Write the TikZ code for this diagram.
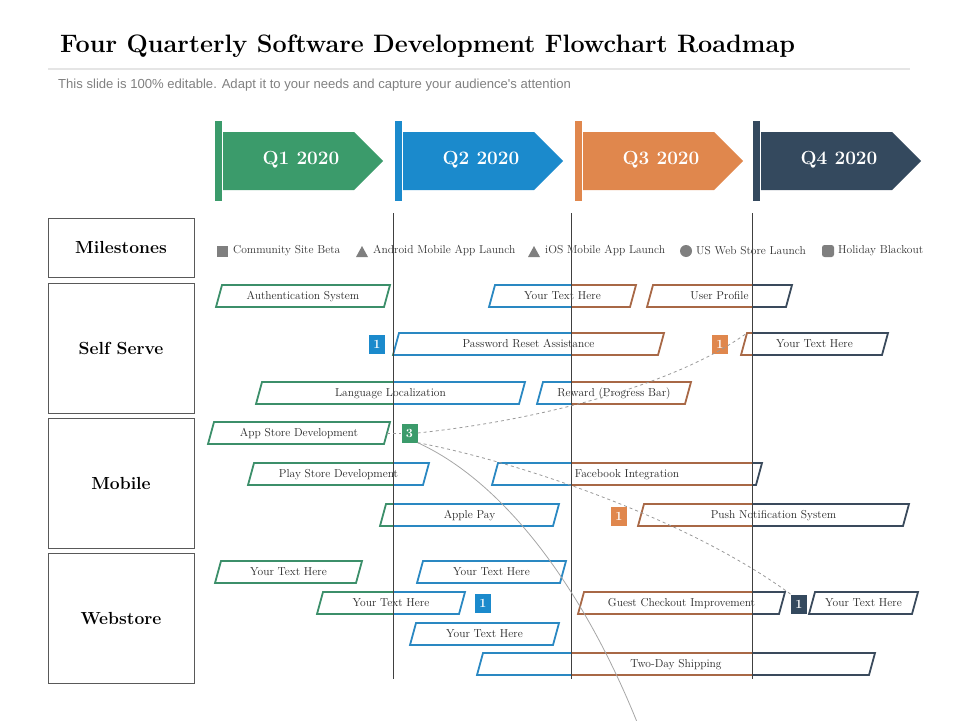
\documentclass[tikz,border=0pt]{standalone}
\usepackage{fontspec}
\newfontfamily\slidesans{Liberation Sans}

\definecolor{qgreen}{HTML}{3B9B6B}
\definecolor{qblue}{HTML}{1B8ACC}
\definecolor{qorange}{HTML}{E0874D}
\definecolor{qnavy}{HTML}{34495E}
\definecolor{lgreen}{HTML}{3C8F6A}
\definecolor{lblue}{HTML}{2A88C2}
\definecolor{lbrown}{HTML}{A86846}
\definecolor{lnavy}{HTML}{3A4A5C}
\definecolor{legendgray}{HTML}{7F7F7F}

\begin{document}
\begin{tikzpicture}[x=1pt,y=-1pt]
		% Styles for panels, bars, badges and links
		\tikzset{
			panel/.style={draw=black!65, line width=0.9pt, minimum width=146pt, inner sep=0pt, font=\fontsize{17.5}{20}\selectfont\bfseries},
			qlabel/.style={text=white, inner sep=0pt, font=\fontsize{19}{21}\selectfont\bfseries},
			tasktext/.style={inner sep=0pt, text height=8pt, text depth=1pt, text=black!85, font=\fontsize{11.5}{12}\selectfont},
			taskline/.style={line width=1.8pt, line join=miter},
			badge/.style={fill=#1, text=white, minimum width=16pt, minimum height=19pt, inner sep=0pt, font=\fontsize{12.5}{13}\selectfont\bfseries},
			legendtext/.style={anchor=west, inner sep=0pt, text=black!80, font=\fontsize{11.5}{12}\selectfont},
			divider/.style={black!75, line width=0.8pt},
			dashlink/.style={black!40, dashed, line width=0.8pt},
			solidlink/.style={black!35, line width=0.8pt}
		}
		\useasboundingbox (0,0) rectangle (960,720);
		
		% Title and subtitle
		\node[anchor=base west, inner sep=0pt, font=\fontsize{25.2}{29}\selectfont\bfseries] (title) at (60,52) {Four Quarterly Software Development Flowchart Roadmap};
		\draw[black!10, line width=1.5pt] (48,69) -- (910,69);
		\node[anchor=base west, inner sep=0pt, text=black!50, font=\slidesans\fontsize{13.1}{15}\selectfont] (subtitle) at (58,88) {This slide is 100\% editable. Adapt it to your needs and capture your audience's attention};
		
		% Quarter arrows
		\foreach \qx/\qcol/\qtext/\qname in {215/qgreen/Q1 2020/qone, 395/qblue/Q2 2020/qtwo, 575/qorange/Q3 2020/qthree, 753/qnavy/Q4 2020/qfour}{
			\fill[\qcol] (\qx,121) rectangle (\qx+6.5,201);
			\fill[\qcol] (\qx+8,132) -- (\qx+139,132) -- (\qx+168,161) -- (\qx+139,190) -- (\qx+8,190) -- cycle;
			\node[qlabel] (\qname) at (\qx+86,160) {\qtext};
		}
		
		% Row headings on the left
		\node[panel, minimum height=59pt] (milestones) at (121,247.5) {Milestones};
		\node[panel, minimum height=130pt] (selfserve) at (121,348) {Self Serve};
		\node[panel, minimum height=130pt] (mobile) at (121,483) {Mobile};
		\node[panel, minimum height=130pt] (webstore) at (121,618) {Webstore};
		
		% Legend
		\fill[legendgray] (217,245.5) rectangle (228,256.5);
		\node[legendtext] (lgbeta) at (233,251) {Community Site Beta};
		\fill[legendgray] (356,257) -- (368,257) -- (362,246) -- cycle;
		\node[legendtext] (lgandroid) at (373,251) {Android Mobile App Launch};
		\fill[legendgray] (528,257) -- (540,257) -- (534,246) -- cycle;
		\node[legendtext] (lgios) at (545,251) {iOS Mobile App Launch};
		\fill[legendgray] (686,251) circle (6);
		\node[legendtext] (lgweb) at (696,251) {US Web Store Launch};
		\fill[legendgray, rounded corners=2.5pt] (822,245) rectangle (834,257);
		\node[legendtext] (lgholiday) at (838,251) {Holiday Blackout};
		
		% Task bars, outline coloured by quarter
		\foreach \tname/\tl/\tr/\ty/\ttext in {
			auth/219/387/296/Authentication System,
			ssyoura/492/633/296/Your Text Here,
			profile/650/789/296/User Profile,
			pwreset/396/661/344/Password Reset Assistance,
			ssyourb/744/885/344/Your Text Here,
			lang/259/522/393/Language Localization,
			reward/540/688/393/Reward (Progress Bar),
			appstore/211/387/433/App Store Development,
			playstore/251/426/474/Play Store Development,
			facebook/495/759/474/Facebook Integration,
			applepay/383/556/515/Apple Pay,
			push/641/906/515/Push Notification System,
			wsyoura/218/359/572/Your Text Here,
			wsyourb/420/563/572/Your Text Here,
			wsyourc/320/462/603/Your Text Here,
			checkout/581/782/603/Guest Checkout Improvement,
			wsyourd/812/915/603/Your Text Here,
			wsyoure/413/556/634/Your Text Here,
			twoday/480/872/664/Two-Day Shipping}{
			\node[tasktext] (\tname) at ({(\tl+\tr)/2},\ty) {\ttext};
			\coordinate (\tname-nw) at (\tl+3,\ty-11);
			\coordinate (\tname-e) at (\tr,\ty);
			\foreach \qa/\qb/\qc in {0/393.5/lgreen, 393.5/571/lblue, 571/752/lbrown, 752/960/lnavy}{
				\begin{scope}
					\clip (\qa,0) rectangle (\qb,720);
					\draw[taskline, draw=\qc] (\tl+3,\ty-11) -- (\tr+3,\ty-11) -- (\tr-3,\ty+11) -- (\tl-3,\ty+11) -- cycle;
				\end{scope}
			}
		}
		
		% Quarter dividers
		\foreach \vx in {393.5,571,752}
			\draw[divider] (\vx,213) -- (\vx,679);
		
		% Count badges
		\node[badge=qblue] (selfone) at (377,344) {1};
		\node[badge=qorange] (selftwo) at (720,344) {1};
		\node[badge=qgreen] (mobthree) at (409.5,433) {3};
		\node[badge=qorange] (mobone) at (619,516) {1};
		\node[badge=qblue] (webone) at (483,603) {1};
		\node[badge=qnavy] (webtwo) at (799,604) {1};
		
		% Links from the badge
		\coordinate (curveend) at (637,722);
		\draw[dashlink] (appstore-e) -- (mobthree.west);
		\draw[dashlink] (mobthree.east) .. controls (540,420) and (675,385) .. (ssyourb-nw);
		\draw[dashlink] (mobthree.south east) .. controls (520,462) and (690,520) .. (webtwo.north west);
		\draw[solidlink] (mobthree.south east) .. controls (510,485) and (587,598) .. (curveend);
	\end{tikzpicture}
\end{document}
